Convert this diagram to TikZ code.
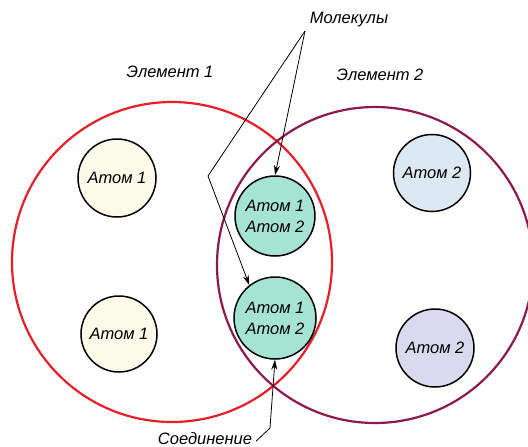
\documentclass[tikz,border=0pt]{standalone}
\usepackage{fontspec}
\setmainfont{Liberation Sans}
\usetikzlibrary{arrows.meta}
\definecolor{elemone}{RGB}{232,30,40}
\definecolor{elemtwo}{RGB}{140,25,80}
\definecolor{aonefill}{RGB}{252,250,232}
\definecolor{atwotop}{RGB}{220,232,242}
\definecolor{atwobot}{RGB}{218,218,238}
\definecolor{molfill}{RGB}{165,228,210}
\begin{document}
\begin{tikzpicture}[x=1pt,y=-1pt,
  atom/.style={circle,draw=black,line width=1.5pt,inner sep=0pt,
    font=\itshape\fontsize{16.5}{21}\selectfont,align=center},
  lbl/.style={font=\itshape\fontsize{16.5}{20}\selectfont,inner sep=1pt},
  bigcirc/.style={line width=2.2pt},
  ptr/.style={line width=0.8pt,-{Stealth[length=10pt,width=6pt]}}]
\useasboundingbox (0,0) rectangle (528,447);
\begin{scope}
  \clip (0,0) rectangle (528,447);
  \draw[bigcirc,draw=elemone] (172,262) circle[radius=160];
  \draw[bigcirc,draw=elemtwo] (375,265) circle[radius=158];
\end{scope}
% atoms
\node[atom,fill=aonefill,minimum size=78] (a1t) at (117,178) {Атом 1};
\node[atom,fill=aonefill,minimum size=76] (a1b) at (119,334) {Атом 1};
\node[atom,fill=atwotop,minimum size=77] (a2t) at (432,173) {Атом 2};
\node[atom,fill=atwobot,minimum size=78] (a2b) at (435,348) {Атом 2};
\node[atom,fill=molfill,minimum size=80] (m1) at (275,216) {Атом 1\\Атом 2};
\node[atom,fill=molfill,minimum size=82] (m2) at (275,318) {Атом 1\\Атом 2};
% labels
\node[lbl] (mol) at (349,20) {Молекулы};
\node[lbl] (e1) at (170,72) {Элемент 1};
\node[lbl] (e2) at (380,75) {Элемент 2};
\node[lbl] (sol) at (205,439) {Соединение};
% pointers
\coordinate (mj) at (305,31);
\coordinate (mb) at (208,176);
\coordinate (sj) at (270,428);
\draw[ptr] (mj) -- (m1.north);
\draw[ptr] (mj) -- (mb) -- (m2.128);
\draw[ptr] ([xshift=3pt,yshift=-2pt]sol.east) -- (sj) -- (m2.south);
\end{tikzpicture}
\end{document}
